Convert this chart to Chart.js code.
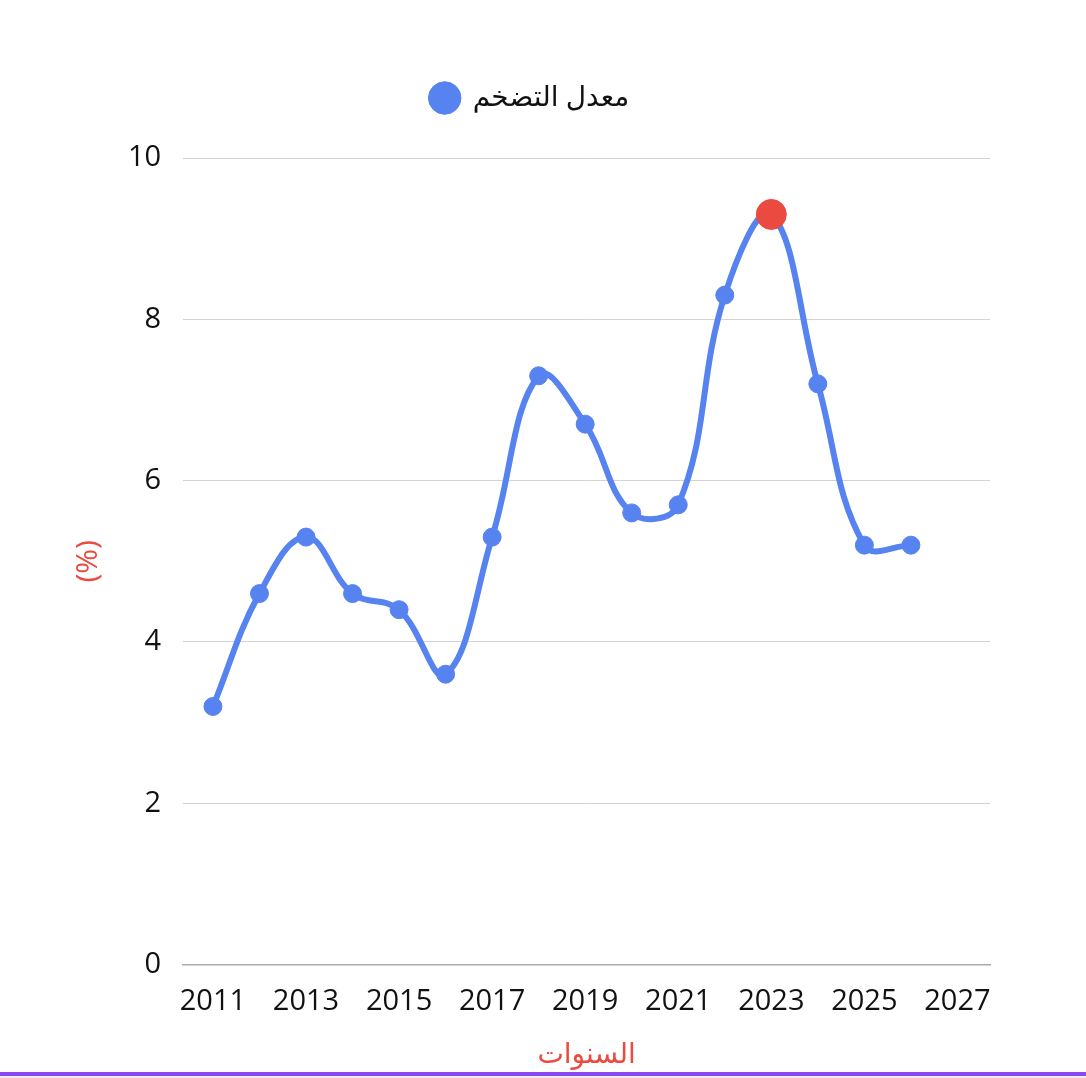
<!DOCTYPE html>
<html lang="ar">
<head>
    <meta charset="UTF-8">
    <title>معدل التضخم</title>
    <script src="https://cdn.jsdelivr.net/npm/chart.js@4.4.1/dist/chart.umd.min.js"></script>
    <style>
        * {
            margin: 0;
            padding: 0;
        }
        body {
            background: #ececf1;
            width: 1086px;
            height: 1078px;
            overflow: hidden;
        }
        #box {
            position: relative;
            width: 1086px;
            height: 1072px;
            background: #fff;
            border-bottom: 4px solid #8a47f2;
            overflow: hidden;
        }
        #box canvas {
            position: absolute;
            left: 0;
            top: 0;
        }
    </style>
</head>
<body>
<div id="box"><canvas id="myChart" width="1086" height="1072" style="width:1086px;height:1072px"></canvas></div>
<script>
    var years = [2011, 2012, 2013, 2014, 2015, 2016, 2017, 2018, 2019, 2020, 2021, 2022, 2023, 2024, 2025, 2026];
    var inflation = [3.2, 4.6, 5.3, 4.6, 4.4, 3.6, 5.3, 7.3, 6.7, 5.6, 5.7, 8.3, 9.3, 7.2, 5.2, 5.2];
    var xTickValues = [2011, 2013, 2015, 2017, 2019, 2021, 2023, 2025, 2027];
    var yTickValues = [0, 2, 4, 6, 8, 10];
    var peakYear = 2023;

    var blue = "#5683f0";
    var red = "#ea4a3f";

    var points = [];
    for (var i = 0; i < years.length; i++) {
        points.push({x: years[i], y: inflation[i]});
    }
    var pointColors = years.map(function (y) { return y === peakYear ? red : blue; });
    var pointSizes = years.map(function (y) { return y === peakYear ? 15 : 9; });

    // more room under the legend
    var legendGap = {
        id: 'legendGap',
        beforeInit: function (chart) {
            var fit = chart.legend.fit;
            chart.legend.fit = function () {
                fit.bind(chart.legend)();
                this.height += 36;
            };
        }
    };

    Chart.defaults.font.family = "'Open Sans', 'DejaVu Sans', sans-serif";
    Chart.defaults.color = "#111";
    Chart.defaults.devicePixelRatio = 1;

    var ctx = document.getElementById('myChart').getContext("2d");
    var myChart = new Chart(ctx, {
        type: 'line',
        data: {
            datasets: [{
                label: "معدل التضخم",
                data: points,
                borderColor: blue,
                backgroundColor: blue,
                borderWidth: 6,
                tension: 0.4,
                fill: false,
                pointBackgroundColor: pointColors,
                pointBorderColor: pointColors,
                pointBorderWidth: 1,
                pointRadius: pointSizes,
                pointHoverRadius: pointSizes
            }]
        },
        plugins: [legendGap],
        options: {
            responsive: false,
            animation: false,
            layout: {
                padding: {top: 74, right: 96, left: 70, bottom: 0}
            },
            plugins: {
                legend: {
                    labels: {
                        usePointStyle: true,
                        pointStyle: 'circle',
                        boxHeight: 23,
                        font: {size: 28},
                        color: "#111"
                    }
                },
                tooltip: {enabled: false}
            },
            scales: {
                x: {
                    type: 'linear',
                    min: 2010.36,
                    max: 2027.7,
                    afterBuildTicks: function (scale) {
                        scale.ticks = xTickValues.map(function (v) { return {value: v}; });
                    },
                    ticks: {
                        font: {size: 29},
                        padding: 12,
                        maxRotation: 0,
                        autoSkip: false,
                        callback: function (v) { return String(v); }
                    },
                    grid: {display: false},
                    border: {display: true, color: "#aaaaaa", width: 1.5},
                    title: {
                        display: true,
                        text: "السنوات",
                        color: red,
                        font: {size: 28},
                        padding: {top: 7, bottom: 0}
                    }
                },
                y: {
                    min: 0,
                    max: 10,
                    afterBuildTicks: function (scale) {
                        scale.ticks = yTickValues.map(function (v) { return {value: v}; });
                    },
                    ticks: {
                        font: {size: 29},
                        padding: 22
                    },
                    grid: {
                        color: "#d3d3d3",
                        drawTicks: false
                    },
                    border: {display: false},
                    title: {
                        display: true,
                        text: "(%)",
                        color: red,
                        font: {size: 30},
                        padding: {top: 0, bottom: 0}
                    }
                }
            }
        }
    });
</script>
</body>
</html>
